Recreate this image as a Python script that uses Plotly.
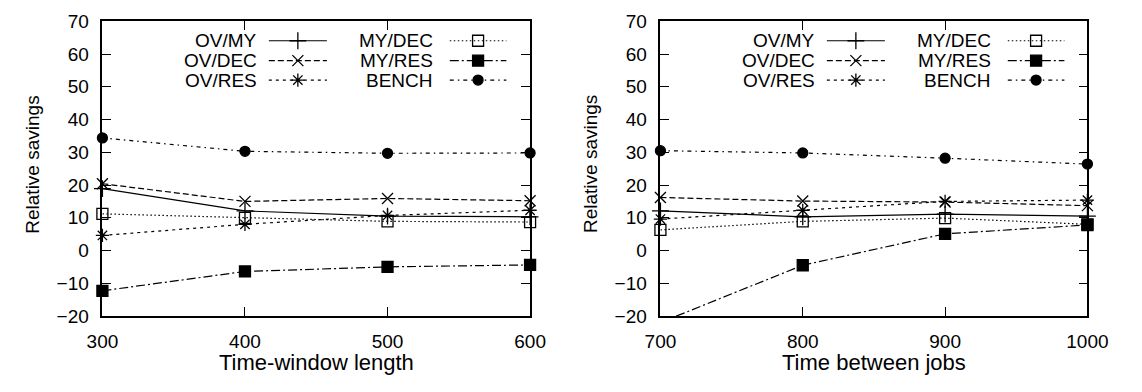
import plotly.graph_objects as go

W, H = 1142, 392

# ---------------- data ----------------
x_left = [300, 400, 500, 600]
x_right = [700, 800, 900, 1000]
series_names = ["OV/MY", "OV/DEC", "OV/RES", "MY/DEC", "MY/RES", "BENCH"]

left_ov_my = [18.9, 12.1, 10.5, 10.3]
left_ov_dec = [20.4, 15.0, 15.9, 15.2]
left_ov_res = [4.6, 8.0, 10.7, 12.3]
left_my_dec = [11.2, 10.0, 8.9, 8.7]
left_my_res = [-12.3, -6.4, -5.0, -4.4]
left_bench = [34.4, 30.3, 29.7, 29.8]

right_ov_my = [12.1, 10.3, 11.1, 10.5]
right_ov_dec = [16.2, 15.1, 14.8, 13.7]
right_ov_res = [9.6, 12.3, 15.0, 15.4]
right_my_dec = [6.3, 8.9, 9.9, 8.0]
right_my_res = [-22.0, -4.5, 5.1, 7.8]
right_bench = [30.5, 29.8, 28.2, 26.4]

x_ticks_left = [300, 400, 500, 600]
x_ticks_right = [700, 800, 900, 1000]
y_ticks = [-20, -10, 0, 10, 20, 30, 40, 50, 60, 70]
y_range = [-20, 70]

x_title_left = "Time-window length"
x_title_right = "Time between jobs"
y_title = "Relative savings"

# ---------------- styles ----------------
FONT = "Liberation Sans, Arial, Helvetica, sans-serif"
FS_TICK = 19
FS_LEG = 19
FS_XT = 22
FS_YT = 19
styles = {
    "OV/MY": dict(dash="solid", symbol="cross-thin", size=12),
    "OV/DEC": dict(dash="6px,3px", symbol="x-thin", size=11),
    "OV/RES": dict(dash="3px,4px", symbol="asterisk", size=11),
    "MY/DEC": dict(dash="1.5px,2.5px", symbol="square-open", size=11),
    "MY/RES": dict(dash="9px,3px,2px,3px", symbol="square", size=11),
    "BENCH": dict(dash="4px,4px,1.5px,4px", symbol="circle", size=10),
}

# pixel geometry of the two plot areas
PL = (89.3, 531.3)
PR = (666.0, 1107.3)
PT, PB = 12.0, 323.3


def px(x):
    return x / W


def py(y):
    return 1 - y / H


fig = go.Figure()


def add_series(xs, ys, name, xa, ya):
    st = styles[name]
    op = [1 if (y_range[0] <= v <= y_range[1]) else 0 for v in ys]
    fig.add_trace(go.Scatter(
        x=xs, y=ys, mode="lines+markers", name=name, showlegend=False,
        xaxis=xa, yaxis=ya, cliponaxis=False,
        line=dict(color="black", width=1.2, dash=st["dash"]),
        marker=dict(symbol=st["symbol"], size=st["size"], color="black",
                    opacity=op, line=dict(color="black", width=1.3)),
    ))


left_sets = [left_ov_my, left_ov_dec, left_ov_res, left_my_dec, left_my_res, left_bench]
right_sets = [right_ov_my, right_ov_dec, right_ov_res, right_my_dec, right_my_res, right_bench]
for name, ys in zip(series_names, left_sets):
    add_series(x_left, ys, name, "x", "y")
for name, ys in zip(series_names, right_sets):
    add_series(x_right, ys, name, "x2", "y2")

# ---------------- legend (gnuplot style: text, then sample) ----------------
annotations = []
leg_rows = [32.5, 53.5, 74.0]
for p0 in (PL[0], PR[0]):
    cols = [(p0 + 160.7, p0 + 172.0, p0 + 232.0),
            (p0 + 343.0, p0 + 359.0, p0 + 417.5)]
    for i, name in enumerate(series_names):
        c = cols[i // 3]
        yy = leg_rows[i % 3]
        st = styles[name]
        annotations.append(dict(
            x=px(c[0]), y=py(yy), xref="paper", yref="paper",
            text=name, showarrow=False, xanchor="right", yanchor="middle",
            borderpad=0,
            font=dict(family=FONT, size=FS_LEG, color="black")))
        fig.add_trace(go.Scatter(
            x=[c[1], (c[1] + c[2]) / 2, c[2]], y=[yy] * 3,
            mode="lines", showlegend=False, hoverinfo="skip",
            xaxis="x3", yaxis="y3",
            line=dict(color="black", width=1.2, dash=st["dash"])))
        fig.add_trace(go.Scatter(
            x=[(c[1] + c[2]) / 2], y=[yy], mode="markers", showlegend=False,
            hoverinfo="skip", xaxis="x3", yaxis="y3",
            marker=dict(symbol=st["symbol"], size=st["size"], color="black",
                        line=dict(color="black", width=1.3))))

# ---------------- axis titles ----------------
annotations.append(dict(x=px((PL[0] + PL[1]) / 2), y=py(372.5), xref="paper", yref="paper",
                        text=x_title_left, showarrow=False, xanchor="center", yanchor="middle",
                        font=dict(family=FONT, size=FS_XT, color="black")))
annotations.append(dict(x=px((PR[0] + PR[1]) / 2), y=py(372.5), xref="paper", yref="paper",
                        text=x_title_right, showarrow=False, xanchor="center", yanchor="middle",
                        font=dict(family=FONT, size=FS_XT, color="black")))
for tx in (17, 594):
    annotations.append(dict(x=px(tx), y=py(163), xref="paper", yref="paper",
                            text=y_title, showarrow=False, textangle=-90, xanchor="center",
                            yanchor="middle", font=dict(family=FONT, size=FS_YT, color="black")))

axis_common = dict(showgrid=False, zeroline=False, showline=True, linecolor="black",
                   linewidth=1.6, mirror="allticks", ticks="inside", ticklen=9,
                   tickwidth=1.2, tickcolor="black", ticklabeloverflow="allow",
                   tickfont=dict(family=FONT, size=FS_TICK, color="black"), fixedrange=True)

fig.update_layout(
    width=W, height=H, margin=dict(l=0, r=0, t=0, b=0),
    paper_bgcolor="white", plot_bgcolor="rgba(0,0,0,0)",
    showlegend=False,
    xaxis=dict(domain=[px(PL[0]), px(PL[1])], range=[x_ticks_left[0], x_ticks_left[-1]],
               tickvals=x_ticks_left, anchor="y", ticklabelstandoff=7, **axis_common),
    yaxis=dict(domain=[py(PB), py(PT)], range=y_range, tickvals=y_ticks,
               anchor="x", ticklabelstandoff=8, **axis_common),
    xaxis2=dict(domain=[px(PR[0]), px(PR[1])], range=[x_ticks_right[0], x_ticks_right[-1]],
                tickvals=x_ticks_right, anchor="y2", ticklabelstandoff=7, **axis_common),
    yaxis2=dict(domain=[py(PB), py(PT)], range=y_range, tickvals=y_ticks,
                anchor="x2", ticklabelstandoff=8, **axis_common),
    xaxis3=dict(domain=[0, 1], range=[0, W], visible=False, fixedrange=True, anchor="y3"),
    yaxis3=dict(domain=[0, 1], range=[H, 0], visible=False, fixedrange=True, anchor="x3"),
    annotations=annotations,
)

fig.write_html("out.html", config={"displayModeBar": False},
               post_script="document.body.style.margin='0';document.body.style.overflow='hidden';")
